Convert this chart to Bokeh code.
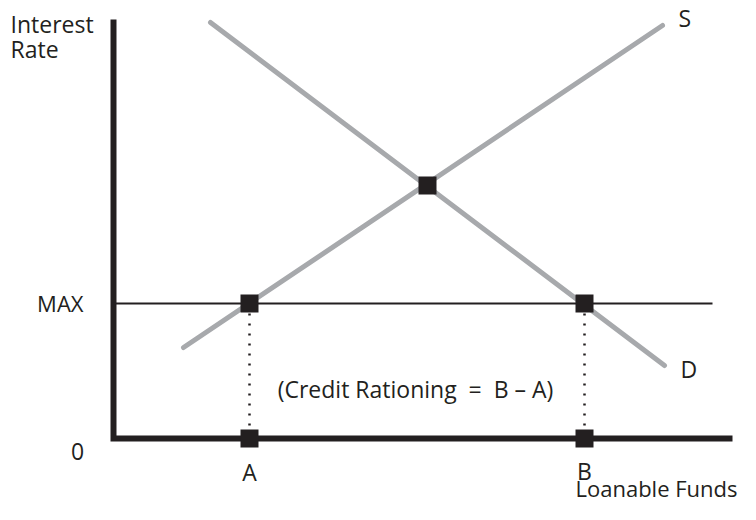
from bokeh.plotting import figure
from bokeh.models import Range1d, Label
from bokeh.embed import file_html
from bokeh.resources import INLINE

# --- schematic data (loanable funds in arbitrary units, interest rate in arbitrary units) ---
supply_funds = [7.0, 54.9]
supply_rate = [9.1, 41.3]
demand_funds = [9.7, 55.1]
demand_rate = [41.6, 7.3]
equilibrium_funds = 31.4
equilibrium_rate = 25.3
max_rate = 13.5
funds_A = 13.6
funds_B = 47.1
axis_top_rate = 41.9
axis_end_funds = 61.9
max_line_end_funds = 59.9

INK = "#231f20"
GRAY = "#a7a9ac"
FONT = "Open Sans"

p = figure(width=740, height=504, x_range=Range1d(-11.3, 62.7), y_range=Range1d(-6.6, 43.8),
           x_axis_type=None, y_axis_type=None, toolbar_location=None, output_backend="svg",
           min_border=0, outline_line_color=None)
p.background_fill_color = "white"
p.border_fill_color = "white"

# axes drawn as one thick line
p.line([0, 0, axis_end_funds], [axis_top_rate, 0, 0], line_color=INK, line_width=6,
       line_join="miter", line_cap="butt")

# MAX ceiling
p.line([0, max_line_end_funds], [max_rate, max_rate], line_color=INK, line_width=2)

# supply and demand
p.line(supply_funds, supply_rate, line_color=GRAY, line_width=5, line_cap="round")
p.line(demand_funds, demand_rate, line_color=GRAY, line_width=5, line_cap="round")

# dotted drops
p.segment(x0=[funds_A, funds_B], y0=[max_rate - 1.0] * 2, x1=[funds_A, funds_B], y1=[0.5] * 2,
          line_color=INK, line_width=2.5, line_dash="2 8", line_cap="butt")

# squares
sq_x = [funds_A, funds_B, equilibrium_funds, funds_A, funds_B]
sq_y = [max_rate, max_rate, equilibrium_rate, 0, 0]
p.scatter(sq_x, sq_y, marker="square", size=18, fill_color=INK, line_color=None)

SHIFT = 1.0  # compensate for baseline rendering offset

def lab(text, x, y, align="left", fs="23px"):
    p.add_layout(Label(x=x, y=y + SHIFT, text=text, text_font=FONT, text_font_size=fs,
                       text_color=INK, text_align=align, text_baseline="alphabetic"))

lab("Interest", -10.3, 40.5)
lab("Rate", -10.3, 38.0)
lab("MAX", -3.0, max_rate - 0.9, "right", "22px")
lab("0", -3.6, -2.3, "center")
lab("A", funds_A, -4.3, "center")
lab("B", funds_B, -4.2, "center")
lab("Loanable Funds", 62.4, -5.9, "right", "22px")
lab("S", supply_funds[-1] + 1.6, supply_rate[-1] - 0.2)
lab("D", demand_funds[-1] + 1.6, demand_rate[-1] - 1.3)
lab("(Credit Rationing \u00a0=\u00a0 B \u2013 A)", (funds_A + funds_B) / 2 - 0.15, 4.0, "center")

open("out.html", "w").write(file_html(p, INLINE))
